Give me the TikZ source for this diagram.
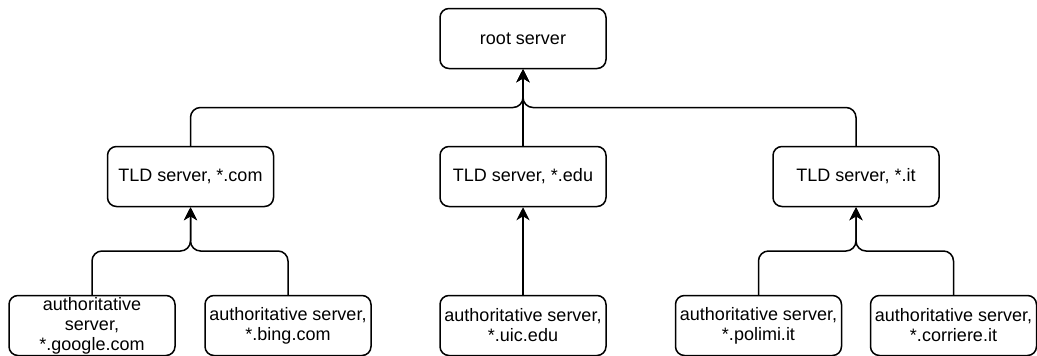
\documentclass[tikz,border=0pt]{standalone}
\usepackage{fontspec}
\setmainfont{Liberation Sans}
\usepackage{tikz}
\usetikzlibrary{positioning, arrows.meta, calc}

\tikzset{
    server/.style={draw=black, line width=1.5pt, rounded corners=9pt,
        minimum width=166pt, minimum height=60pt, inner sep=0pt,
        align=center, font=\fontsize{18}{20}\selectfont},
    link/.style={draw=black, line width=1.5pt, rounded corners=10pt,
        -{Stealth[length=13pt, width=13pt, inset=4pt]}}
}

\begin{document}
\begin{tikzpicture}[x=1pt, y=-1pt]
    \useasboundingbox (0,0) rectangle (1037,356);

    % root
    \node[server] (root) at (523,38.5) {root server};

    % top level domains
    \foreach \name/\x/\txt in {
        com/190.5/{TLD server, *.com},
        edu/523/{TLD server, *.edu},
        it/856/{TLD server, *.it}}
    {
        \node[server] (\name) at (\x,176.5) {\txt};
    }

    % authoritative servers
    \foreach \name/\x/\txt in {
        goo/92/{authoritative\\ server,\\ *.google.com},
        bing/288/{authoritative server,\\ *.bing.com},
        uic/523/{authoritative server,\\ *.uic.edu},
        poli/758.5/{authoritative server,\\ *.polimi.it},
        cor/953.5/{authoritative server,\\ *.corriere.it}}
    {
        \node[server] (\name) at (\x,325.5) {\txt};
    }

    % links
    \foreach \from/\to in {
        com/root, it/root,
        goo/com, bing/com,
        poli/it, cor/it}
    {
        \draw[link] (\from.north) |- ($(\from.north)!0.5!(\to.south)$) -| (\to.south);
    }
    \draw[link] (edu.north) -- (root.south);
    \draw[link] (uic.north) -- (edu.south);
\end{tikzpicture}
\end{document}
